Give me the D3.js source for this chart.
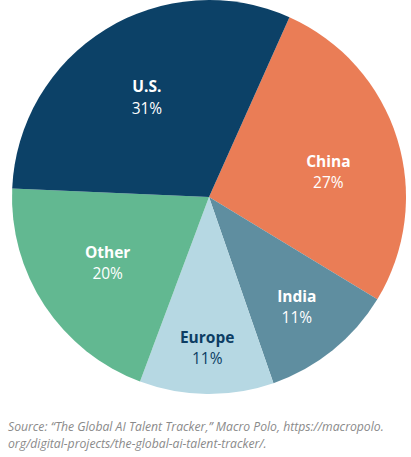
<!DOCTYPE html>
<html><head><meta charset="utf-8">
<script src="https://cdn.jsdelivr.net/npm/d3@7"></script>
<style>body{margin:0;background:#fff}svg{display:block}</style>
</head><body>
<script>
const categories = ["China", "India", "Europe", "Other", "U.S."];
const values = [27, 11, 11, 20, 31];
const colors = ["#ea7d56", "#5f8ea0", "#b6d8e3", "#62b891", "#0c4167"];
const labelColors = ["#ffffff", "#ffffff", "#0c3d63", "#ffffff", "#ffffff"];
const labelRadii = [0.62, 0.71, 0.76, 0.61, 0.60];
const labelShift = [5, 0, 0, 1, 0];
const sourceLines = ["Source: \u201cThe Global AI Talent Tracker,\u201d Macro Polo, https://macropolo.",
  "org/digital-projects/the-global-ai-talent-tracker/."];

const W = 411, H = 457, cx = 209, cy = 197, R = 197;
const svg = d3.select("body").append("svg").attr("width", W).attr("height", H);
const g = svg.append("g").attr("transform", `translate(${cx},${cy})`);
const startA = 24.1 * Math.PI / 180;
const pie = d3.pie().sort(null).startAngle(startA).endAngle(startA + 2 * Math.PI);
const arcs = pie(values);
const arc = d3.arc().innerRadius(0).outerRadius(R);
g.selectAll("path").data(arcs).join("path").attr("d", arc).attr("fill", (d, i) => colors[i]);

arcs.forEach((d, i) => {
  const a = (d.startAngle + d.endAngle) / 2 + labelShift[i] * Math.PI / 180;
  const r = R * labelRadii[i];
  const x = Math.sin(a) * r, y = -Math.cos(a) * r;
  const t = g.append("text").attr("text-anchor", "middle")
    .attr("font-family", "'Source Sans Pro','Open Sans',sans-serif").attr("font-size", 15.5)
    .attr("fill", labelColors[i]);
  t.append("tspan").attr("x", x).attr("y", y - 4).attr("font-weight", 700).text(categories[i]);
  t.append("tspan").attr("x", x).attr("y", y + 17.5).text(values[i] + "%");
});

const src = svg.append("text")
  .attr("font-family", "'Open Sans',sans-serif").attr("font-style", "italic")
  .attr("font-size", 12.2).attr("fill", "#8a8a8a");
src.selectAll("tspan").data(sourceLines).join("tspan")
  .attr("x", 8).attr("y", (d, i) => 431 + i * 17).text(d => d);
</script>
</body></html>
